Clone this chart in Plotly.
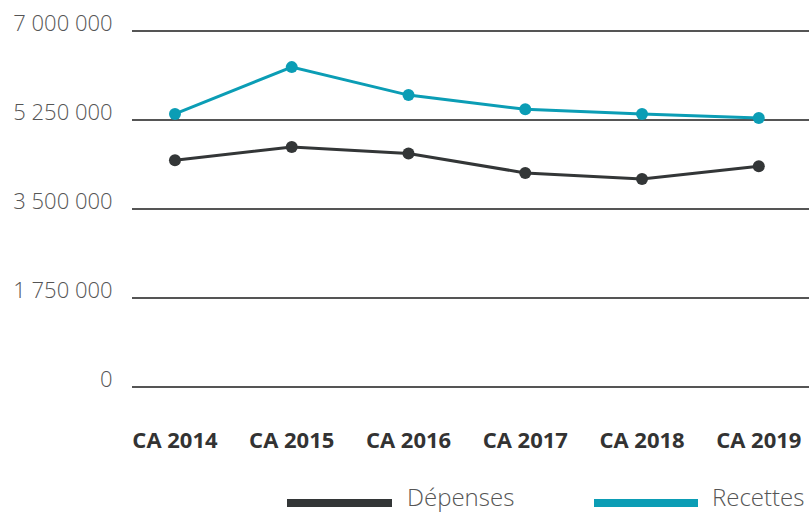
import plotly.graph_objects as go

categories = ["CA 2014", "CA 2015", "CA 2016", "CA 2017", "CA 2018", "CA 2019"]
depenses = [4460000, 4720000, 4590000, 4210000, 4090000, 4340000]
recettes = [5370000, 6290000, 5740000, 5460000, 5370000, 5290000]
y_tickvals = [0, 1750000, 3500000, 5250000, 7000000]
y_ticktext = ["0", "1 750 000", "3 500 000", "5 250 000", "7 000 000"]

C_DEP = "#333637"
C_REC = "#0b9db5"

fig = go.Figure()
fig.add_trace(go.Scatter(x=list(range(len(categories))), y=depenses, name="Dépenses",
                         mode="lines+markers", line=dict(color=C_DEP, width=3),
                         marker=dict(size=12, color=C_DEP)))
fig.add_trace(go.Scatter(x=list(range(len(categories))), y=recettes, name="Recettes",
                         mode="lines+markers", line=dict(color=C_REC, width=3),
                         marker=dict(size=12, color=C_REC)))

T, B = 30, 124
PH = 512 - T - B

fig.update_layout(
    width=809, height=512,
    margin=dict(l=132, r=0, t=T, b=B, autoexpand=False),
    paper_bgcolor="white", plot_bgcolor="white",
    showlegend=False,
    font=dict(family="Open Sans", color="#555555"),
)
fig.update_xaxes(
    range=[-0.368, 5.43], automargin=False,
    tickvals=list(range(len(categories))), ticktext=categories,
    showgrid=False, zeroline=False, showline=False,
    ticks="outside", ticklen=33, tickcolor="rgba(0,0,0,0)",
    tickfont=dict(family="Open Sans", size=22, color="#333333", weight=700),
)
fig.update_yaxes(
    range=[-20000, 7020000], automargin=False,
    tickvals=y_tickvals, ticktext=y_ticktext,
    showgrid=True, gridcolor="#555555", gridwidth=1.5,
    zeroline=False, showline=False,
    ticks="outside", ticklen=14, tickcolor="rgba(0,0,0,0)",
    ticklabelshift=-8,
    tickfont=dict(family="Open Sans", size=22, color="#555555", weight=300),
)

def py(pix):
    # convert pixel y (from top) to paper coordinate
    return (512 - B - pix) / PH

# Legend drawn as shapes + text
for x0, x1, col, label, tx in [(287, 392, C_DEP, "Dépenses", 405), (594, 698, C_REC, "Recettes", 710)]:
    fig.add_shape(type="rect", xref="paper", yref="paper",
                  x0=(x0 - 132) / 677, x1=(x1 - 132) / 677,
                  y0=py(507), y1=py(499),
                  fillcolor=col, line=dict(width=0))
    fig.add_annotation(text=label, xref="paper", yref="paper",
                       x=(tx - 132) / 677, y=py(496),
                       xanchor="left", yanchor="middle", showarrow=False,
                       font=dict(family="Open Sans", size=24, color="#555555", weight=300))

fig.write_html("out.html", config={"displayModeBar": False},
               post_script="document.body.style.margin='0';document.body.style.overflow='hidden';")
